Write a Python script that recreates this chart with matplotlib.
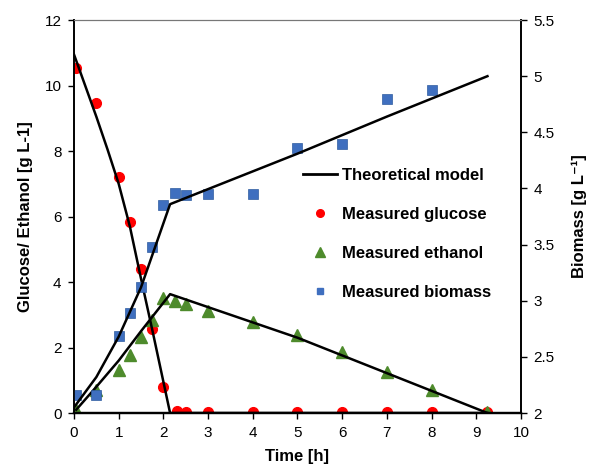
import matplotlib
matplotlib.use("Agg")
import matplotlib.pyplot as plt
from matplotlib.lines import Line2D

plt.rcParams['font.family'] = ['Liberation Sans', 'DejaVu Sans']

# measured glucose [g/L]
t_glc = [0.05, 0.5, 1.0, 1.25, 1.5, 1.75, 2.0, 2.3, 2.5, 3, 4, 5, 6, 7, 8, 9.25]
glucose = [10.55, 9.48, 7.2, 5.82, 4.39, 2.58, 0.8, 0.05, 0.04, 0.02, 0.02, 0.02, 0.02, 0.02, 0.02, 0.02]

# measured ethanol [g/L]
t_eth = [0.05, 0.5, 1.0, 1.25, 1.5, 1.75, 2.0, 2.27, 2.5, 3, 4, 5, 6, 7, 8, 9.25]
ethanol = [0.1, 0.7, 1.32, 1.78, 2.32, 2.83, 3.52, 3.42, 3.32, 3.13, 2.77, 2.37, 1.85, 1.26, 0.7, 0.02]

# measured biomass [g/L]
t_bio = [0.05, 0.5, 1.0, 1.25, 1.5, 1.75, 2.0, 2.27, 2.5, 3, 4, 5, 6, 7, 8]
biomass = [2.16, 2.16, 2.69, 2.89, 3.12, 3.48, 3.85, 3.96, 3.94, 3.95, 3.95, 4.36, 4.40, 4.80, 4.88]

# model curves
tm_glc = [0, 0.25, 0.5, 0.75, 1.0, 1.25, 1.5, 1.75, 2.15, 9.25]
m_glc = [10.95, 10.0, 9.05, 8.05, 7.0, 5.7, 4.1, 2.55, 0.0, 0.0]
tm_eth = [0.05, 0.5, 1.0, 1.5, 2.15, 5.0, 9.25]
m_eth = [0.1, 0.8, 1.6, 2.5, 3.63, 2.3, 0.0]
tm_bio = [0.0, 0.5, 1.0, 1.5, 2.15, 5.0, 7.0, 9.25]
m_bio = [2.05, 2.32, 2.68, 3.12, 3.86, 4.31, 4.64, 5.0]

red = '#FF0000'
green = '#4E8B2C'
blue = '#3F6FBF'

fig = plt.figure(figsize=(5.9, 4.66), dpi=100)
ax = fig.add_axes([0.1254, 0.1137, 0.7576, 0.8433])
ax2 = ax.twinx()

ax.plot(t_glc, glucose, 'o', color=red, ms=7, mec=red, zorder=2)
ax.plot(t_eth, ethanol, '^', color=green, ms=8, mec=green, zorder=2)
ax.plot(tm_glc, m_glc, '-', color='black', lw=1.8, zorder=3)
ax.plot(tm_eth, m_eth, '-', color='black', lw=1.8, zorder=3)

ax2.plot(t_bio, biomass, 's', color=blue, ms=7, mec='#2F5C9F', mew=0.5, zorder=2)
ax2.plot(tm_bio, m_bio, '-', color='black', lw=1.8, zorder=3)

ax.set_xlim(0, 10)
ax.set_ylim(0, 12)
ax2.set_ylim(2, 5.5)
ax.set_xticks(range(0, 11))
ax.set_yticks(range(0, 13, 2))
ax2.set_yticks([2, 2.5, 3, 3.5, 4, 4.5, 5, 5.5])
ax2.set_yticklabels(['2', '2.5', '3', '3.5', '4', '4.5', '5', '5.5'])

for a in (ax, ax2):
    a.tick_params(labelsize=11, length=4, width=1, direction='out', pad=5)
    a.spines['top'].set_color('#777777')
    a.spines['top'].set_linewidth(0.8)
    a.spines['left'].set_linewidth(1.2)
    a.spines['right'].set_linewidth(1.2)
    a.spines['bottom'].set_linewidth(1.6)

ax.set_xlabel('Time [h]', fontsize=12, fontweight='bold', labelpad=7)
ax.set_ylabel('Glucose/ Ethanol [g L-1]', fontsize=12, fontweight='bold', labelpad=8)
ax2.set_ylabel('Biomass [g L\u207b\u00b9]', fontsize=12, fontweight='bold', labelpad=12)

handles = [
    Line2D([], [], color='black', lw=2),
    Line2D([], [], marker='o', ls='none', color=red, ms=5.5),
    Line2D([], [], marker='^', ls='none', color=green, ms=6.5),
    Line2D([], [], marker='s', ls='none', color=blue, ms=5),
]
labels = ['Theoretical model', 'Measured glucose', 'Measured ethanol', 'Measured biomass']
leg = ax2.legend(handles, labels, loc='upper left', bbox_to_anchor=(0.499, 0.658),
                 bbox_transform=fig.transFigure, frameon=False, handlelength=2.05,
                 handletextpad=0.3, labelspacing=1.45, borderpad=0,
                 prop={'size': 12, 'weight': 'bold'})

fig.savefig('out.png', dpi=100)
